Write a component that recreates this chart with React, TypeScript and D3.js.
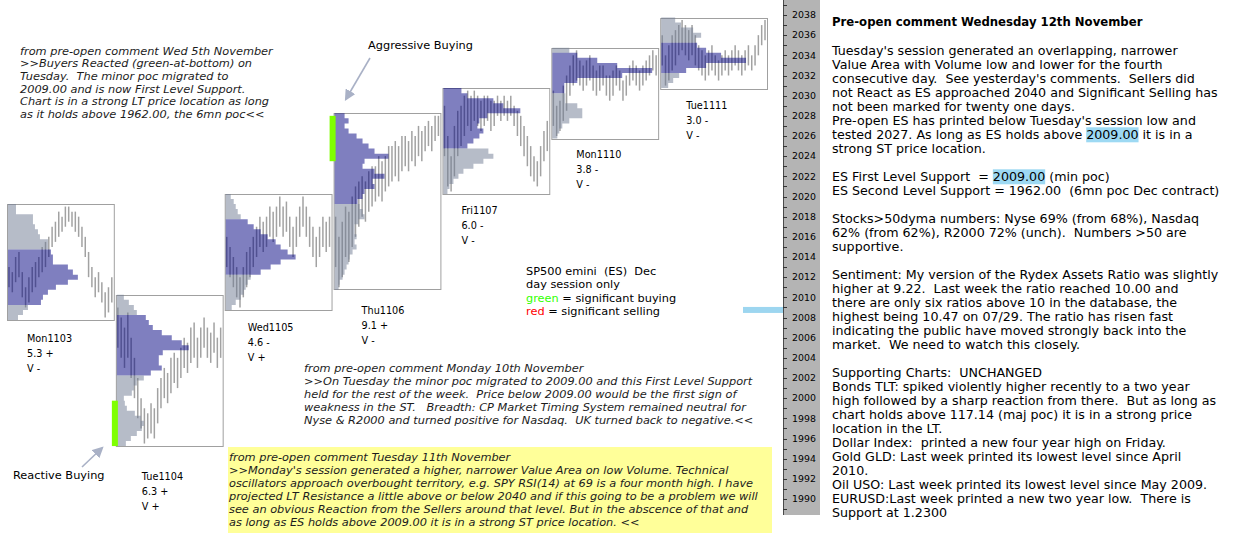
import React from "react";
import * as d3 from "d3";

// ---------- DATA ----------
const dayNames = ["Mon1103", "Tue1104", "Wed1105", "Thu1106", "Fri1107", "Mon1110", "Tue1111"];
const rangeStats = ["5.3 +", "6.3 +", "4.6 -", "9.1 +", "6.0 -", "3.8 -", "3.0 -"];
const volumeStats = ["V -", "V +", "V +", "V -", "V -", "V -", "V -"];
const dayHigh = [2019, 2010, 2020, 2028, 2030.5, 2034.5, 2037.5];
const dayLow = [2008, 1995.5, 2009, 2011, 2020.5, 2026, 2031];
const vaHigh = [2014.5, 2008, 2017.5, 2028, 2030.5, 2034, 2035];
const vaLow = [2009.5, 2002.5, 2012.5, 2019.5, 2025, 2030.5, 2032.5];

// profile volume per 0.5 pt level, from day high down to day low
const profMon1103 = [8, 8, 25, 25, 27, 30, 32, 40, 40, 43, 45, 45, 60, 65, 70, 60, 48, 40, 35, 33, 20, 15, 10];
const profTue1104 = [7, 12, 17, 20, 29, 32, 36, 45, 55, 65, 72, 46, 42, 42, 45, 34, 27, 20, 17, 15, 7, 8, 10, 18, 24, 27, 25, 20, 14, 9];
const profWed1105 = [5, 8, 10, 12, 15, 22, 28, 35, 42, 50, 55, 62, 70, 55, 45, 35, 25, 22, 20, 18, 15, 10, 6];
const profThu1106 = [10, 14, 10, 14, 22, 28, 34, 40, 54, 30, 28, 40, 50, 38, 40, 30, 28, 23, 25, 28, 30, 24, 20, 20, 22, 20, 22, 18, 15, 14, 12, 10, 8, 5, 4];
const profFri1107 = [18, 24, 50, 60, 77, 44, 36, 34, 40, 36, 30, 24, 45, 50, 40, 30, 20, 15, 10, 6, 4];
const profMon1110 = [17, 25, 45, 65, 100, 70, 25, 12, 12, 13, 13, 25, 30, 30, 17, 10, 7, 5];
const profTue1111 = [14, 20, 32, 40, 34, 36, 45, 60, 85, 45, 25, 18, 12, 7];

// intraday bars [low, high]
const barsMon1103 = [[2011, 2013], [2010.5, 2012.5], [2011.5, 2014], [2012, 2014.5], [2010, 2012.5], [2009, 2011], [2009.5, 2012], [2010.5, 2013], [2011, 2013.5], [2012, 2014], [2012.5, 2015], [2013, 2015.5],
  [2014, 2016], [2015, 2017], [2015.5, 2017.5], [2016, 2018.5], [2016.5, 2018],
  [2017, 2019], [2017.5, 2019], [2017, 2018.5], [2016.5, 2018.5], [2016, 2018],
  [2015, 2017], [2014, 2016], [2012, 2014.5],
  [2011, 2013], [2010, 2012], [2010.5, 2012.5], [2009.5, 2011.5],
  [2008, 2010.5], [2008.5, 2011], [2009.5, 2012]];
const barsTue1104 = [[2005, 2009], [2004, 2008], [2003, 2007], [2004, 2008.5],
  [2002, 2006], [2000, 2004], [1998, 2002], [1997, 2000],
  [1995.5, 1999], [1996, 1998.5], [1996.5, 1999.5], [1996, 1999],
  [1997.5, 2001], [1999, 2002], [2000, 2003], [1999.5, 2002.5],
  [2000.5, 2004], [2001.5, 2004.5], [2001, 2004], [2002, 2005],
  [2003, 2006], [2002.5, 2005.5], [2003.5, 2007], [2004, 2007.5],
  [2003, 2006], [2004, 2007], [2005, 2008], [2004, 2007],
  [2003.5, 2006.5], [2004.5, 2007.5], [2003, 2006], [2004, 2007]];
const barsWed1105 = [[2013, 2016], [2012, 2015], [2011, 2014], [2010, 2013], [2009, 2012], [2010, 2013], [2011, 2014.5], [2012, 2015],
  [2013, 2016], [2014, 2017], [2015, 2018], [2014.5, 2017.5], [2015, 2018], [2016, 2019], [2015.5, 2018.5], [2016, 2019],
  [2017, 2020], [2016, 2019], [2016.5, 2019.5], [2015, 2018], [2014, 2017], [2015, 2018], [2016, 2019], [2017, 2020],
  [2016, 2019], [2015, 2018], [2014, 2017], [2013, 2016], [2014, 2017], [2015, 2018], [2014.5, 2017.5], [2015, 2018]];
const barsThu1106 = [[2013, 2018], [2011, 2016], [2012, 2017.5], [2014, 2019], [2013.5, 2018.5], [2015, 2020],
  [2016, 2021], [2017, 2021.5], [2018, 2022], [2017.5, 2021.5], [2018.5, 2022.5], [2019, 2023],
  [2019.5, 2023], [2020, 2024], [2019.5, 2023.5], [2020.5, 2024], [2021, 2025], [2021.5, 2025],
  [2022, 2025.5], [2021.5, 2025], [2022.5, 2026], [2023, 2026], [2022.5, 2025.5], [2023.5, 2026.5],
  [2023, 2026], [2024, 2027], [2023.5, 2026.5], [2024.5, 2027], [2025, 2027.5], [2024.5, 2027], [2025.5, 2028], [2026, 2028]];
const barsFri1107 = [[2024, 2029], [2021, 2026], [2020.5, 2024], [2022, 2027], [2024, 2028.5], [2025, 2029],
  [2026, 2030], [2027, 2030.5], [2026.5, 2030], [2027.5, 2030.5], [2027, 2030], [2026.5, 2029.5],
  [2027, 2030], [2027.5, 2030], [2026.5, 2029.5], [2027, 2029.5], [2028, 2030], [2027.5, 2029.5],
  [2028, 2030], [2027.5, 2029.5], [2028, 2030], [2027, 2029], [2026, 2028.5], [2025, 2028],
  [2024, 2027], [2023, 2026], [2022, 2025], [2021.5, 2024], [2021, 2023.5], [2022, 2025], [2023.5, 2026.5], [2024.5, 2027.5]];
const barsMon1110 = [[2027, 2030.5], [2026, 2029], [2026.5, 2029.5], [2027.5, 2031], [2028.5, 2032], [2030, 2033],
  [2031, 2034], [2031.5, 2034.5], [2031, 2033.5], [2030.5, 2033], [2031, 2033.5], [2031.5, 2034],
  [2030.5, 2033], [2030, 2032.5], [2030.5, 2033], [2031, 2033], [2030, 2032], [2029.5, 2032],
  [2030, 2032.5], [2031, 2033], [2030.5, 2032.5], [2029.5, 2031.5], [2030, 2032], [2031, 2033],
  [2031.5, 2033.5], [2031, 2033], [2030.5, 2032.5], [2031, 2033], [2031.5, 2033.5], [2032, 2034], [2032.5, 2034.5], [2032, 2034]];
const barsTue1111 = [[2033, 2036], [2031, 2034], [2031.5, 2035], [2032.5, 2036], [2033, 2036.5], [2034, 2037],
  [2034.5, 2037.5], [2034, 2037], [2033.5, 2036.5], [2034, 2037], [2033, 2036], [2032.5, 2035],
  [2032, 2034.5], [2031.5, 2034], [2032, 2034.5], [2032.5, 2035], [2032, 2034], [2031.5, 2033.5],
  [2032, 2034], [2032.5, 2034.5], [2032, 2034], [2032.5, 2034.5], [2033, 2035], [2032.5, 2034.5],
  [2032, 2034], [2032.5, 2034.5], [2033, 2035], [2032.5, 2034], [2033, 2035], [2034, 2036], [2035, 2037], [2035.5, 2037.5]];

const profiles = [profMon1103, profTue1104, profWed1105, profThu1106, profFri1107, profMon1110, profTue1111];
const priceBars = [barsMon1103, barsTue1104, barsWed1105, barsThu1106, barsFri1107, barsMon1110, barsTue1111];

// significant buying zones
const buyDays = ["Tue1104", "Thu1106"];
const buyLow = [1995.25, 2023.5];
const buyHigh = [1999.75, 2028];

const currentPrice = 2008.75;
const axisTicks = d3.range(1989, 2040, 1);

// ---------- TEXT ----------
const noteWed5 = [
  "from pre-open comment Wed 5th November",
  ">>Buyers Reacted (green-at-bottom) on",
  "Tuesday.  The minor poc migrated to",
  "2009.00 and is now First Level Support.",
  "Chart is in a strong LT price location as long",
  "as it holds above 1962.00, the 6mn poc<<",
];
const noteMon10 = [
  "from pre-open comment Monday 10th November",
  ">>On Tuesday the minor poc migrated to 2009.00 and this First Level Support",
  "held for the rest of the week.  Price below 2009.00 would be the first sign of",
  "weakness in the ST.   Breadth: CP Market Timing System remained neutral for",
  "Nyse & R2000 and turned positive for Nasdaq.  UK turned back to negative.<<",
];
const noteTue11 = [
  "from pre-open comment Tuesday 11th November",
  ">>Monday's session generated a higher, narrower Value Area on low Volume. Technical",
  "oscillators approach overbought territory, e.g. SPY RSI(14) at 69 is a four month high. I have",
  "projected LT Resistance a little above or below 2040 and if this going to be a problem we will",
  "see an obvious Reaction from the Sellers around that level. But in the abscence of that and",
  "as long as ES holds above 2009.00 it is in a strong ST price location. <<",
];
const legendLines = ["SP500 emini  (ES)  Dec", "day session only"];
const commentTitle = "Pre-open comment Wednesday 12th November";
const commentLines = [
  "Tuesday's session generated an overlapping, narrower",
  "Value Area with Volume low and lower for the fourth",
  "consecutive day.  See yesterday's comments.  Sellers did",
  "not React as ES approached 2040 and Significant Selling has",
  "not been marked for twenty one days.",
  "Pre-open ES has printed below Tuesday's session low and",
  "tested 2027. As long as ES holds above [2009.00] it is in a",
  "strong ST price location.",
  "",
  "ES First Level Support  = [2009.00] (min poc)",
  "ES Second Level Support = 1962.00  (6mn poc Dec contract)",
  "",
  "Stocks>50dyma numbers: Nyse 69% (from 68%), Nasdaq",
  "62% (from 62%), R2000 72% (unch).  Numbers >50 are",
  "supportive.",
  "",
  "Sentiment: My version of the Rydex Assets Ratio was slightly",
  "higher at 9.22.  Last week the ratio reached 10.00 and",
  "there are only six ratios above 10 in the database, the",
  "highest being 10.47 on 07/29. The ratio has risen fast",
  "indicating the public have moved strongly back into the",
  "market.  We need to watch this closely.",
  "",
  "Supporting Charts:  UNCHANGED",
  "Bonds TLT: spiked violently higher recently to a two year",
  "high followed by a sharp reaction from there.  But as long as",
  "chart holds above 117.14 (maj poc) it is in a strong price",
  "location in the LT.",
  "Dollar Index:  printed a new four year high on Friday.",
  "Gold GLD: Last week printed its lowest level since April",
  "2010.",
  "Oil USO: Last week printed its lowest level since May 2009.",
  "EURUSD:Last week printed a new two year low.  There is",
  "Support at 1.2300",
];

// ---------- LAYOUT ----------
const labelDx = [20, 26, 23, 28, 19, 25, 26];
const labelDy = [18, 30, 18, 21, 17, 16, 17];

const FONT = "'DejaVu Sans', Verdana, sans-serif";
const RIGHT_SIZE = 12.67;

let ctx: CanvasRenderingContext2D | null = null;
function measure(s: string, font: string) {
  if (!ctx) ctx = document.createElement("canvas").getContext("2d");
  if (!ctx) return s.length * 7;
  ctx.font = font;
  return ctx.measureText(s).width;
}

const T = (props: any) => <text xmlSpace="preserve" {...props} />;

export default function App() {
  const y = d3.scaleLinear().domain([1990, 2038]).range([499, 15]);
  const x = d3.scaleBand<string>().domain(dayNames).range([7, 767]).paddingInner(0.019);
  const bw = x.bandwidth();
  const half = (y(2000) - y(2000.5)) / 2;
  const wScale = d3.scaleLinear().domain([0, 107]).range([0, bw]);

  const stepPath = (left: number, lv: { p: number; v: number }[]) => {
    if (!lv.length) return "";
    let d = `M${left},${y(lv[0].p) - half}`;
    lv.forEach((l) => {
      const xr = left + wScale(l.v);
      d += `L${xr},${y(l.p) - half}L${xr},${y(l.p) + half}`;
    });
    d += `L${left},${y(lv[lv.length - 1].p) + half}Z`;
    return d;
  };

  const rightFont = `${RIGHT_SIZE}px 'DejaVu Sans'`;

  return (
    <svg width={1240} height={554} style={{ position: "absolute", left: 0, top: 0, background: "#fff" }} fontFamily={FONT}>
      <defs>
        <marker id="arr" viewBox="0 0 10 10" refX="8" refY="5" markerWidth="7" markerHeight="7" orient="auto">
          <path d="M0,0L10,5L0,10Z" fill="#a9b1c6" />
        </marker>
      </defs>
      <rect x={0} y={0} width={1240} height={554} fill="#fff" />

      {/* yellow note */}
      <rect x={228} y={447} width={544} height={86} fill="#ffff99" />

      {/* day profiles */}
      {dayNames.map((name, i) => {
        const left = x(name)!;
        const top = y(dayHigh[i]) - half;
        const bottom = y(dayLow[i]) + half;
        const bars = priceBars[i];
        const bx = d3.scaleLinear().domain([0, bars.length - 1]).range([left + 2, left + bw - 2]);
        const levels = profiles[i].map((v, k) => ({ p: dayHigh[i] - k * 0.5, v }));
        const above = levels.filter((l) => l.p > vaHigh[i]);
        const inVA = levels.filter((l) => l.p <= vaHigh[i] && l.p >= vaLow[i]);
        const below = levels.filter((l) => l.p < vaLow[i]);
        const lx = left + labelDx[i];
        const ly = bottom + labelDy[i] + 3.5;
        return (
          <g key={name}>
            <rect x={left + 0.5} y={Math.round(top) + 0.5} width={bw} height={Math.round(bottom - top)} fill="none" stroke="#a0a0a0" strokeWidth={1} />
            {bars.map(([lo, hi], k) => (
              <line key={k} x1={bx(k)} x2={bx(k)} y1={y(lo)} y2={y(hi)} stroke="#a2a2a2" strokeWidth={1.5} />
            ))}
            <path d={stepPath(left + 1, above)} fill="#6e7a92" fillOpacity={0.5} />
            <path d={stepPath(left + 1, inVA)} fill="#000080" fillOpacity={0.5} />
            <path d={stepPath(left + 1, below)} fill="#6e7a92" fillOpacity={0.5} />
            <text x={lx} y={ly} fontSize={9.7} fill="#000">{name}</text>
            <text x={lx} y={ly + 15} fontSize={9.7} fill="#000">{rangeStats[i]}</text>
            <text x={lx} y={ly + 30} fontSize={9.7} fill="#000">{volumeStats[i]}</text>
          </g>
        );
      })}

      {/* significant buying */}
      {buyDays.map((d, i) => (
        <rect key={d} x={x(d)! - 4} y={y(buyHigh[i])} width={6} height={y(buyLow[i]) - y(buyHigh[i])} fill="#7fff00" />
      ))}

      {/* annotations */}
      <g fontStyle="italic" fontSize={11.33} fill="#1c1c1c">
        {noteWed5.map((t, i) => (
          <T key={i} x={20} y={54.5 + i * 12.7}>{t}</T>
        ))}
        {noteMon10.map((t, i) => (
          <T key={i} x={304} y={372 + i * 13}>{t}</T>
        ))}
        {noteTue11.map((t, i) => (
          <T key={i} x={229} y={461 + i * 13}>{t}</T>
        ))}
      </g>

      <text x={368} y={49} fontSize={11.33} fill="#000">Aggressive Buying</text>
      <line x1={370} y1={58} x2={346} y2={99} stroke="#a9b1c6" strokeWidth={1.6} markerEnd="url(#arr)" />
      <text x={13} y={479} fontSize={11.33} fill="#000">Reactive Buying</text>
      <line x1={82} y1={467} x2={102} y2={448} stroke="#a9b1c6" strokeWidth={1.6} markerEnd="url(#arr)" />

      {/* legend */}
      <g fontSize={11.33}>
        {legendLines.map((t, i) => (
          <T key={i} x={526} y={275 + i * 13.3} fill="#000">{t}</T>
        ))}
        <T x={526} y={275 + 2 * 13.3}><tspan fill="#33ff00">green</tspan><tspan fill="#000"> = significant buying</tspan></T>
        <T x={526} y={275 + 3 * 13.3}><tspan fill="#ff0000">red</tspan><tspan fill="#000"> = significant selling</tspan></T>
      </g>

      {/* price axis */}
      <rect x={783} y={0} width={37} height={515} fill="#b4b4b4" />
      <line x1={783.5} x2={783.5} y1={0} y2={515} stroke="#4a4a4a" />
      {axisTicks.map((t) => (
        <line key={t} x1={783} x2={787} y1={Math.round(y(t)) + 0.5} y2={Math.round(y(t)) + 0.5} stroke="#333" />
      ))}
      {axisTicks.filter((t) => t % 2 === 0 && t >= 1990 && t <= 2038).map((t) => (
        <text key={t} x={792} y={y(t)} dy="0.35em" fontSize={9.4} fill="#000">{t}</text>
      ))}
      <rect x={743} y={y(currentPrice) - 3} width={40} height={6} fill="#9dd6f0" />

      {/* right commentary */}
      <text x={832} y={26} fontSize={11.7} fontWeight="bold" fill="#000">{commentTitle}</text>
      <g fontSize={RIGHT_SIZE} fill="#000">
        {commentLines.map((line, i) => {
          const by = 55 + i * 14;
          const m = line.match(/^(.*)\[(.*)\](.*)$/);
          if (!m) return <T key={i} x={832} y={by}>{line}</T>;
          const pre = measure(m[1], rightFont);
          const hw = measure(m[2], rightFont);
          return (
            <g key={i}>
              <rect x={832 + pre} y={by - 11.7} width={hw} height={15} fill="#9dd9f3" />
              <T x={832} y={by}>{m[1] + m[2] + m[3]}</T>
            </g>
          );
        })}
      </g>
    </svg>
  );
}
